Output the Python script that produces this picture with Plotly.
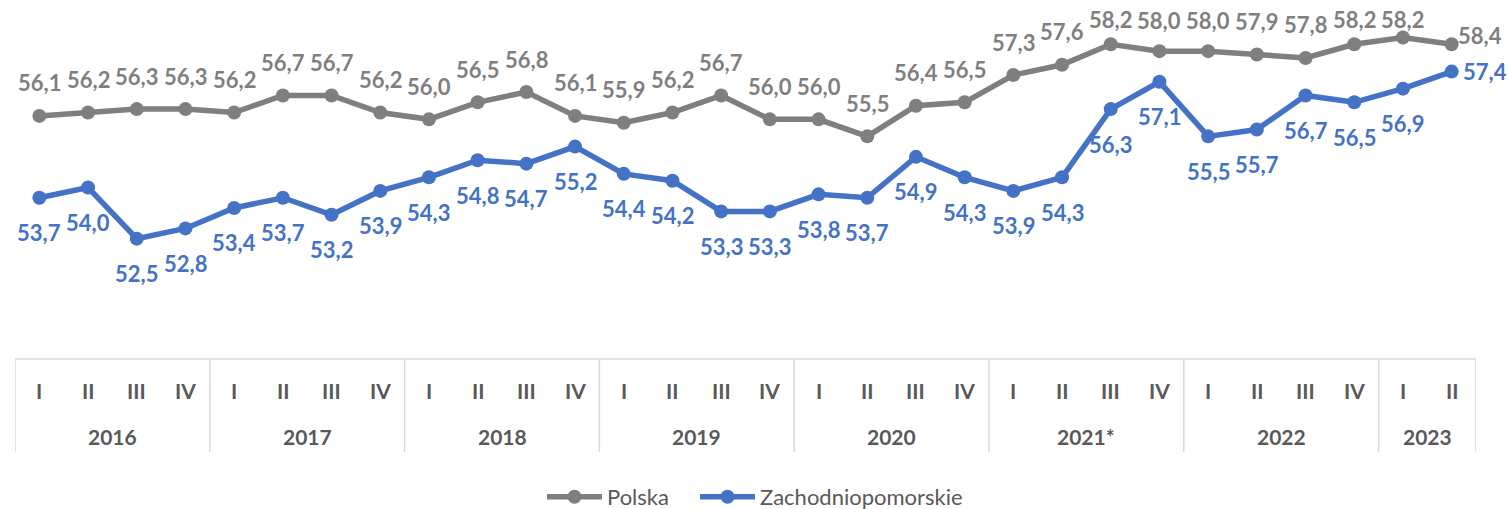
import plotly.graph_objects as go

# ---------------- data ----------------
quarters = ["I", "II", "III", "IV"] * 7 + ["I", "II"]
years = ["2016", "2017", "2018", "2019", "2020", "2021*", "2022", "2023"]
quarters_per_year = [4, 4, 4, 4, 4, 4, 4, 2]

polska = [56.1, 56.2, 56.3, 56.3, 56.2, 56.7, 56.7, 56.2, 56.0, 56.5,
          56.8, 56.1, 55.9, 56.2, 56.7, 56.0, 56.0, 55.5, 56.4, 56.5,
          57.3, 57.6, 58.2, 58.0, 58.0, 57.9, 57.8, 58.2, 58.4, 58.2]
polska_labels = ["56,1", "56,2", "56,3", "56,3", "56,2", "56,7", "56,7", "56,2", "56,0", "56,5",
                 "56,8", "56,1", "55,9", "56,2", "56,7", "56,0", "56,0", "55,5", "56,4", "56,5",
                 "57,3", "57,6", "58,2", "58,0", "58,0", "57,9", "57,8", "58,2", "58,2", "58,4"]

zachodniopomorskie = [53.7, 54.0, 52.5, 52.8, 53.4, 53.7, 53.2, 53.9, 54.3, 54.8,
                      54.7, 55.2, 54.4, 54.2, 53.3, 53.3, 53.8, 53.7, 54.9, 54.3,
                      53.9, 54.3, 56.3, 57.1, 55.5, 55.7, 56.7, 56.5, 56.9, 57.4]
zach_labels = [f"{v:.1f}".replace(".", ",") for v in zachodniopomorskie]

# ---------------- style / geometry ----------------
GREY = "#7F7F7F"
BLUE = "#4472C4"
TXT = "#595959"
FONT = "Lato"
W, H = 1509, 509
ML, MR, MT, MB = 15, 33, 0, 150
PLOT_W = W - ML - MR
PLOT_H = H - MT - MB
Y_RANGE = [48.97, 59.50]
PPU = PLOT_H / (Y_RANGE[1] - Y_RANGE[0])
LABEL_SIZE = 22


def paper_y(px):
    return (MT + PLOT_H - px) / PLOT_H


def paper_x(px):
    return (px - ML) / PLOT_W


n = len(quarters)
x = list(range(n))

fig = go.Figure()
fig.add_trace(go.Scatter(
    x=x, y=polska, name="Polska", mode="lines+markers",
    line=dict(color=GREY, width=5.5), marker=dict(size=14, color=GREY),
    hoverinfo="skip", legend="legend"))
fig.add_trace(go.Scatter(
    x=x, y=zachodniopomorskie, name="Zachodniopomorskie", mode="lines+markers",
    line=dict(color=BLUE, width=5.5), marker=dict(size=14, color=BLUE),
    hoverinfo="skip", legend="legend2"))

annotations = []
# data labels
for i, (v, t) in enumerate(zip(polska, polska_labels)):
    p = (Y_RANGE[1] - v) * PPU
    if i == n - 1:
        annotations.append(dict(x=i, y=v, xref="x", yref="y", text=t, showarrow=False,
                                xanchor="left", yanchor="middle", xshift=4, yshift=9,
                                font=dict(family=FONT, size=LABEL_SIZE, color=GREY, weight="bold")))
        continue
    center = max(p - 33, 20)
    annotations.append(dict(x=i, y=v, xref="x", yref="y", text=t, showarrow=False,
                            xanchor="center", yanchor="middle", yshift=p - center,
                            font=dict(family=FONT, size=LABEL_SIZE, color=GREY, weight="bold")))
for i, (v, t) in enumerate(zip(zachodniopomorskie, zach_labels)):
    if i == n - 1:
        annotations.append(dict(x=i, y=v, xref="x", yref="y", text=t, showarrow=False,
                                xanchor="left", yanchor="middle", xshift=9, yshift=0,
                                font=dict(family=FONT, size=LABEL_SIZE, color=BLUE, weight="bold")))
        continue
    annotations.append(dict(x=i, y=v, xref="x", yref="y", text=t, showarrow=False,
                            xanchor="center", yanchor="middle", yshift=-35,
                            font=dict(family=FONT, size=LABEL_SIZE, color=BLUE, weight="bold")))

# category table: quarter row + year row
for i, q in enumerate(quarters):
    annotations.append(dict(x=i, y=paper_y(390), xref="x", yref="paper", text=q,
                            showarrow=False, xanchor="center", yanchor="middle",
                            font=dict(family=FONT, size=21, color=TXT, weight="bold")))

shapes = [dict(type="line", xref="x", yref="paper", x0=-0.5, x1=n - 0.5,
               y0=paper_y(359), y1=paper_y(359), line=dict(color="#D9D9D9", width=1.5))]
start = 0
bounds = [-0.5]
for yr, cnt in zip(years, quarters_per_year):
    mid = start + (cnt - 1) / 2
    annotations.append(dict(x=mid, y=paper_y(436), xref="x", yref="paper", text=yr,
                            showarrow=False, xanchor="center", yanchor="middle",
                            font=dict(family=FONT, size=21, color=TXT, weight="bold")))
    start += cnt
    bounds.append(start - 0.5)
for b in bounds:
    shapes.append(dict(type="line", xref="x", yref="paper", x0=b, x1=b,
                       y0=paper_y(359), y1=paper_y(452), line=dict(color="#D9D9D9", width=1.5)))

legend_style = dict(orientation="h", xanchor="left", yanchor="middle", itemwidth=55,
                    y=paper_y(497), font=dict(family=FONT, size=22, color=TXT),
                    bgcolor="rgba(0,0,0,0)")

fig.update_layout(
    width=W, height=H,
    margin=dict(l=ML, r=MR, t=MT, b=MB, autoexpand=False),
    paper_bgcolor="white", plot_bgcolor="white",
    showlegend=True,
    legend=dict(x=paper_x(542), **legend_style),
    legend2=dict(x=paper_x(695), **legend_style),
    xaxis=dict(range=[-0.5, n - 0.5], visible=False, fixedrange=True),
    yaxis=dict(range=Y_RANGE, visible=False, fixedrange=True),
    annotations=annotations,
    shapes=shapes,
    font=dict(family=FONT),
)

fig.write_html("out.html")
